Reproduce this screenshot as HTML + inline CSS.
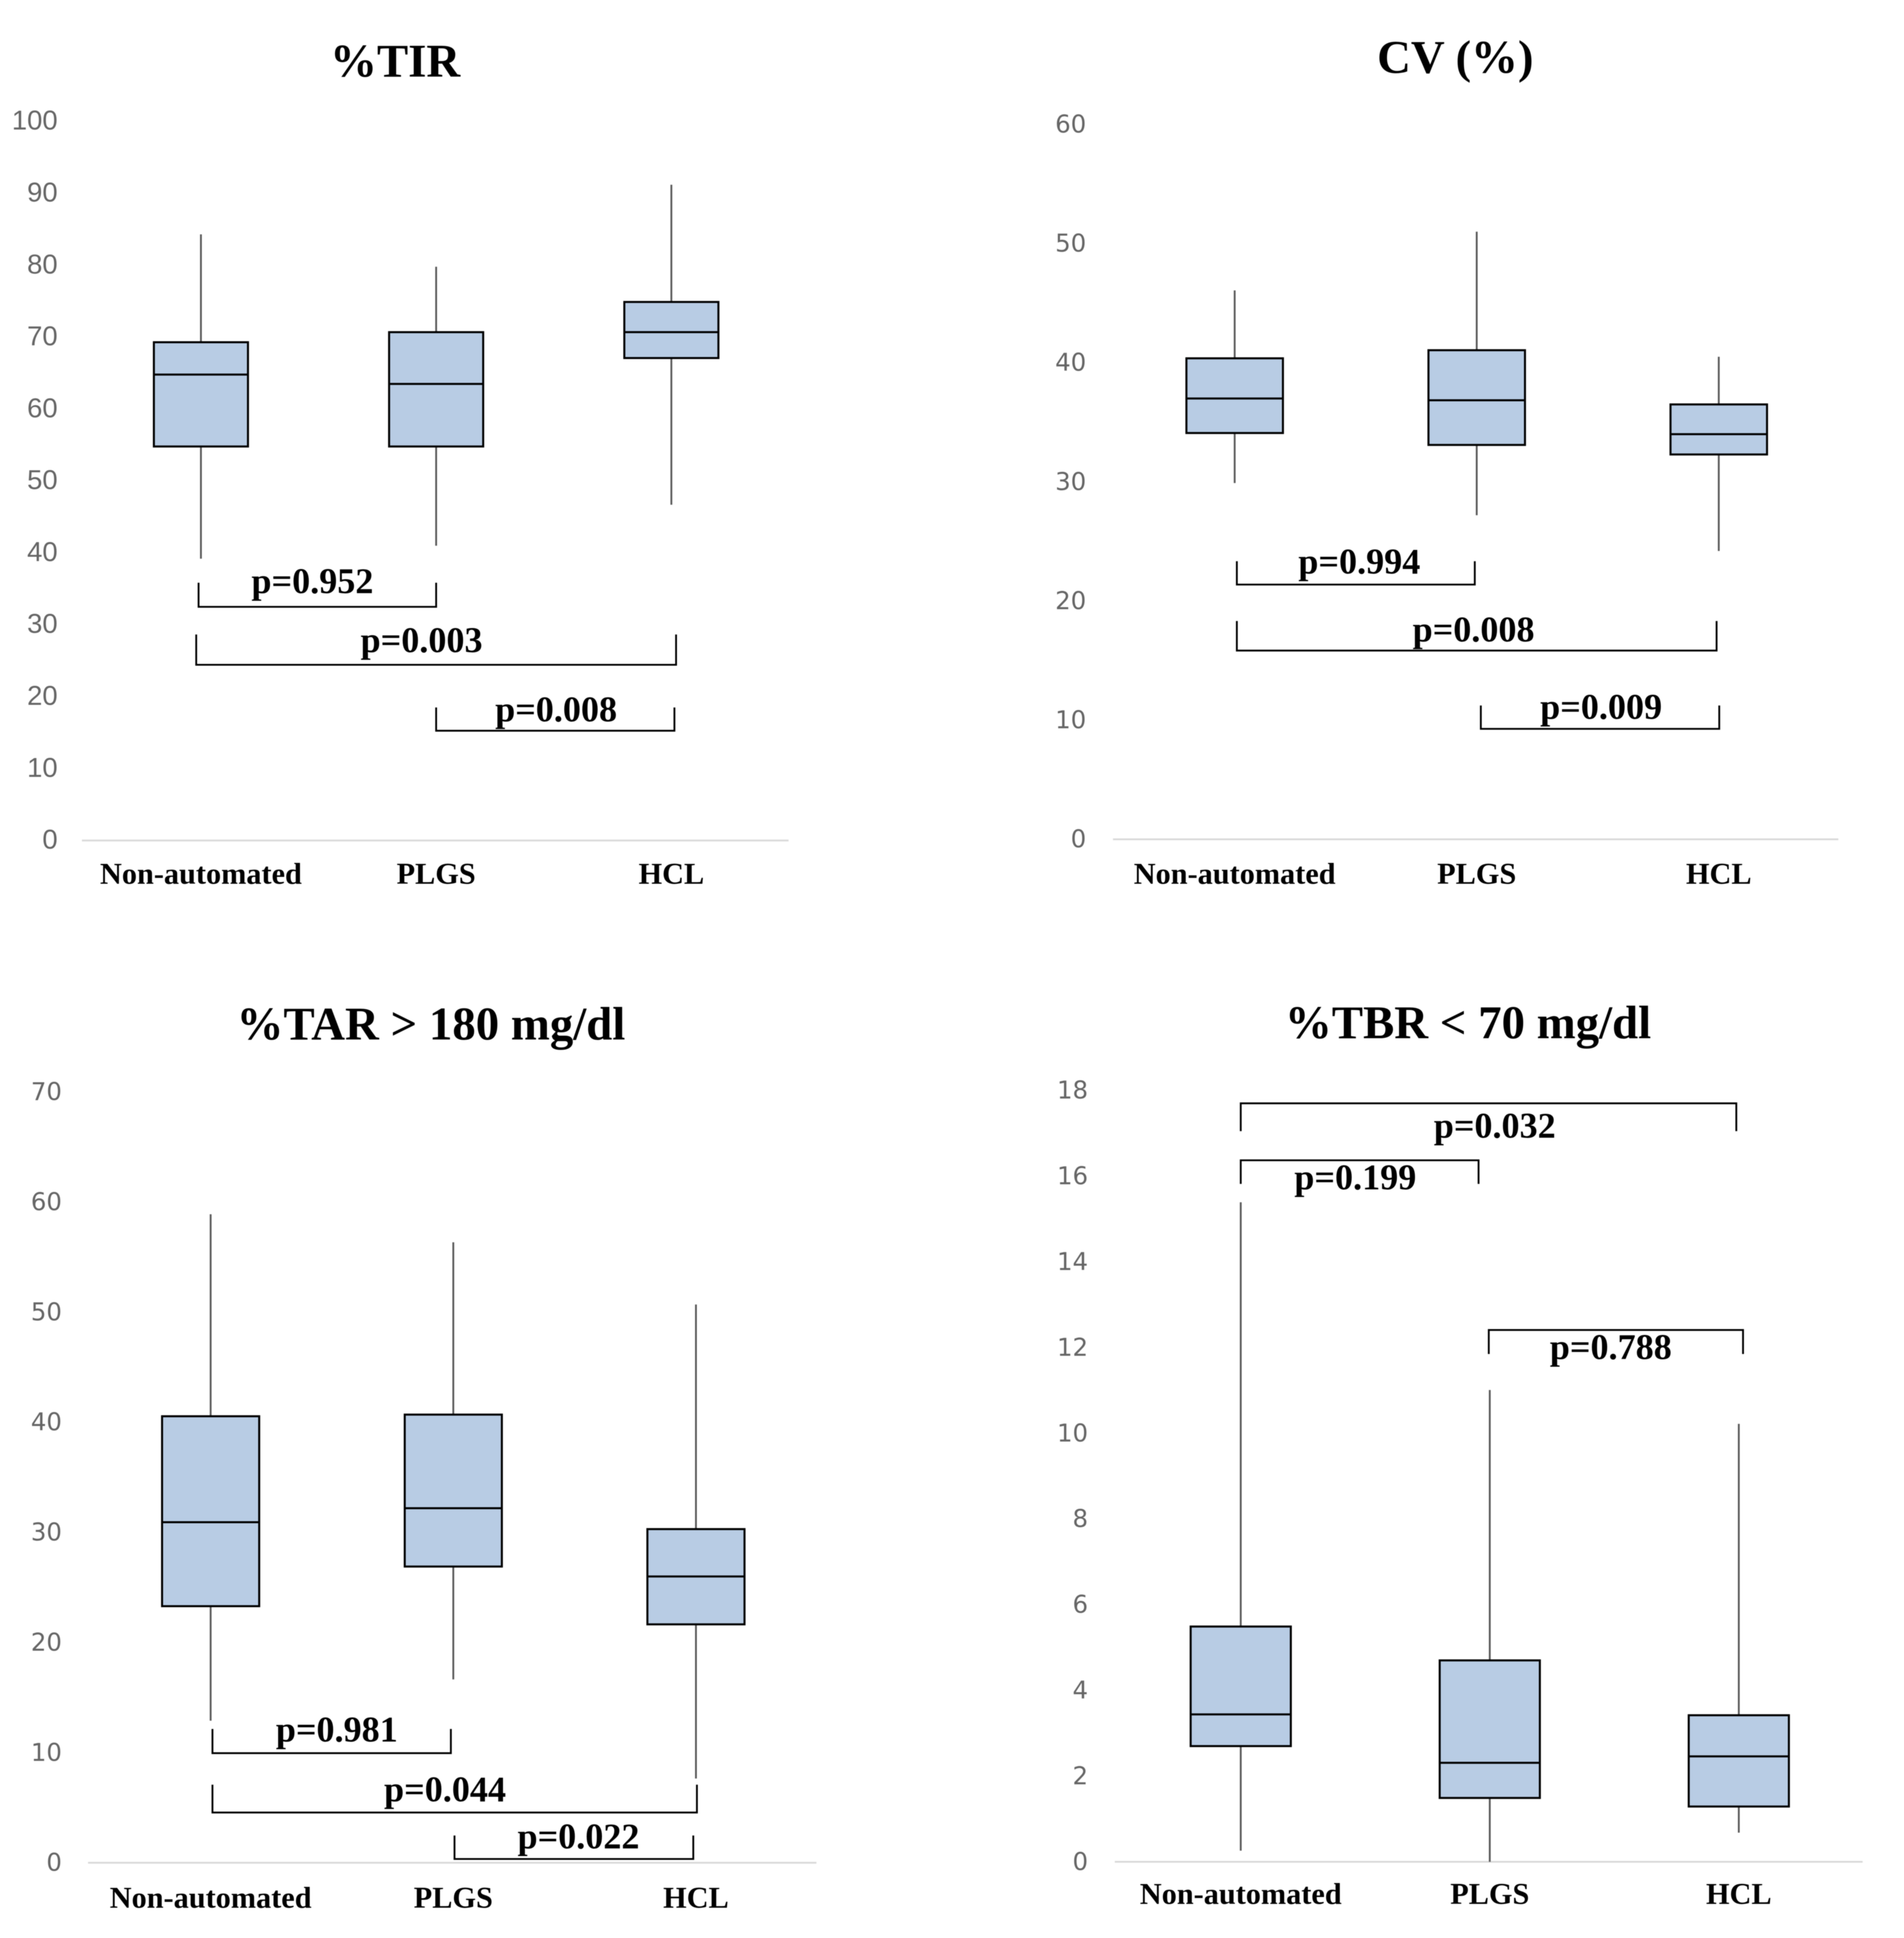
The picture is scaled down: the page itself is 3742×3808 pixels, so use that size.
<!DOCTYPE html>
<html lang="en">
<head>
<meta charset="utf-8">
<title>Glucose metrics box plots</title>
<style>
html,body{margin:0;padding:0;background:#fff;width:3742px;height:3808px;overflow:hidden}
svg{display:block;filter:blur(0.8px)}
.title{font:bold 92px "Liberation Serif",serif;fill:#000;text-anchor:middle}
.cat{font:bold 59.5px "Liberation Serif",serif;fill:#000;text-anchor:middle}
.pval{font:bold 71px "Liberation Serif",serif;fill:#000;text-anchor:middle}
.tick{fill:#666;text-anchor:end}
.tick-a{font:54px "Liberation Sans",sans-serif}
.tick-b{font:48px "DejaVu Sans",sans-serif}
</style>
</head>
<body>
<svg id="figure" xmlns="http://www.w3.org/2000/svg" width="3742" height="3808" viewBox="0 0 3742 3808"></svg>
<script>
const categories = ["Non-automated", "PLGS", "HCL"];

const tirTicks = [0, 10, 20, 30, 40, 50, 60, 70, 80, 90, 100];
const tirHigh = [84.3, 79.8, 91.2];
const tirQ3 = [69.3, 70.7, 74.9];
const tirMedian = [64.8, 63.5, 70.7];
const tirQ1 = [54.8, 54.8, 67.1];
const tirLow = [39.2, 41.0, 46.7];
const tirPValues = ["p=0.952", "p=0.003", "p=0.008"];

const cvTicks = [0, 10, 20, 30, 40, 50, 60];
const cvHigh = [46.07, 51.0, 40.5];
const cvQ3 = [40.37, 41.05, 36.5];
const cvMedian = [37.0, 36.85, 34.0];
const cvQ1 = [34.1, 33.1, 32.3];
const cvLow = [29.9, 27.2, 24.2];
const cvPValues = ["p=0.994", "p=0.008", "p=0.009"];

const tarTicks = [0, 10, 20, 30, 40, 50, 60, 70];
const tarHigh = [58.9, 56.35, 50.7];
const tarQ3 = [40.55, 40.7, 30.3];
const tarMedian = [30.93, 32.2, 26.0];
const tarQ1 = [23.3, 26.9, 21.65];
const tarLow = [12.9, 16.65, 7.65];
const tarPValues = ["p=0.981", "p=0.044", "p=0.022"];

const tbrTicks = [0, 2, 4, 6, 8, 10, 12, 14, 16, 18];
const tbrHigh = [15.39, 11.01, 10.22];
const tbrQ3 = [5.49, 4.7, 3.42];
const tbrMedian = [3.44, 2.31, 2.46];
const tbrQ1 = [2.7, 1.49, 1.29];
const tbrLow = [0.26, 0, 0.68];
const tbrPValues = ["p=0.032", "p=0.199", "p=0.788"];

/* Measured-coordinate scales of the reference */
const SX = 1.193;
const panels = [
  { key:"tir", title:"%TIR", ox:0, oy:0, sy:1.2117, tickClass:"tick tick-a", tickDy:16, y0:1363, unit:11.66, c0:331, band:387.5, axisL:135, axisR:1299, tickR:95,
    titleX:651, titleY:124, catY:1433, boxW:155,
    ticks:tirTicks, high:tirHigh, q3:tirQ3, med:tirMedian, q1:tirQ1, low:tirLow, pv:tirPValues,
    brackets:[
      {from:-0.01, to:1.0, level:32.5, end:35.85, textCat:0.474, textVal:34.4},
      {from:-0.02, to:2.02, level:24.44, end:28.65, textCat:0.938, textVal:26.2},
      {from:1.0, to:2.013, level:15.27, end:18.5, textCat:1.51, textVal:16.55}
    ]},
  { key:"cv", title:"CV (%)", ox:1870, oy:0, sy:1.2117, tickClass:"tick tick-b", tickDy:16, y0:1361, unit:19.32, c0:466.5, band:398.75, axisL:266, axisR:1461, tickR:222,
    titleX:830, titleY:118, catY:1433, boxW:159,
    ticks:cvTicks, high:cvHigh, q3:cvQ3, med:cvMedian, q1:cvQ1, low:cvLow, pv:cvPValues,
    brackets:[
      {from:0.009, to:0.992, level:21.38, end:23.34, textCat:0.515, textVal:22.3},
      {from:0.009, to:1.991, level:15.84, end:18.32, textCat:0.987, textVal:16.6},
      {from:1.017, to:2.002, level:9.27, end:11.23, textCat:1.514, textVal:10.1}
    ]},
  { key:"tar", title:"%TAR > 180 mg/dl", ox:0, oy:1900, sy:1.2168, tickClass:"tick tick-b", tickDy:16, y0:1446.5, unit:17.78, c0:347, band:399.75, axisL:145, axisR:1345, tickR:102,
    titleX:710, titleY:117, catY:1519, boxW:160,
    ticks:tarTicks, high:tarHigh, q3:tarQ3, med:tarMedian, q1:tarQ1, low:tarLow, pv:tarPValues,
    brackets:[
      {from:0.0075, to:0.99, level:9.95, end:12.15, textCat:0.52, textVal:11.0},
      {from:0.0075, to:2.004, level:4.56, end:7.09, textCat:0.966, textVal:5.57},
      {from:1.005, to:1.989, level:0.34, end:2.47, textCat:1.516, textVal:1.29}
    ]},
  { key:"tbr", title:"%TBR < 70 mg/dl", ox:1870, oy:1900, sy:1.2168, tickClass:"tick tick-b", tickDy:16, y0:1445, unit:69.2, c0:476.5, band:410.25, axisL:269, axisR:1501, tickR:225,
    titleX:851, titleY:115, catY:1513, boxW:165,
    ticks:tbrTicks, high:tbrHigh, q3:tbrQ3, med:tbrMedian, q1:tbrQ1, low:tbrLow, pv:tbrPValues,
    brackets:[
      {from:0, to:1.99, level:17.7, end:17.05, textCat:1.02, textVal:16.9},
      {from:0, to:0.955, level:16.37, end:15.82, textCat:0.46, textVal:15.69},
      {from:0.996, to:2.017, level:12.41, end:11.85, textCat:1.486, textVal:11.73}
    ]}
];

const NS = "http://www.w3.org/2000/svg";
const root = document.getElementById("figure");

function make(tag, parent, attrs, text) {
  const n = document.createElementNS(NS, tag);
  for (const k in attrs) n.setAttribute(k, attrs[k]);
  if (text !== undefined) n.textContent = text;
  parent.appendChild(n);
  return n;
}

panels.forEach(function (p) {
  const xPx = function (z) { return z * SX + p.ox; };
  const yPx = function (z) { return z * p.sy + p.oy; };
  const yScale = function (v) { return yPx(p.y0 - v * p.unit); };
  const xScale = function (c) { return xPx(p.c0 + c * p.band); };

  const g = make("g", root, {});
  
  

  const title = make("text", g, { class:"title", x:xPx(p.titleX), y:yPx(p.titleY) }, p.title);
  
  

  p.ticks.forEach(function (t) {
    const label = make("text", g, { class:p.tickClass, x:xPx(p.tickR), y:yScale(t) + p.tickDy }, String(t));
    
    
  });

  const axis = make("line", g, { x1:xPx(p.axisL), x2:xPx(p.axisR), y1:yScale(0), y2:yScale(0), stroke:"#d9d9d9", "stroke-width":3.5 });
  
  

  categories.forEach(function (cat, i) {
    const cx = xScale(i);
    const w = p.boxW * SX;

    const whisker = make("line", g, { x1:cx, x2:cx, y1:yScale(p.high[i]), y2:yScale(p.low[i]), stroke:"#595959", "stroke-width":3.6 });
    
    

    const box = make("rect", g, { x:cx - w / 2, y:yScale(p.q3[i]), width:w, height:yScale(p.q1[i]) - yScale(p.q3[i]), fill:"#b8cce4", stroke:"#000", "stroke-width":4 });
    
    

    const median = make("line", g, { x1:cx - w / 2, x2:cx + w / 2, y1:yScale(p.med[i]), y2:yScale(p.med[i]), stroke:"#000", "stroke-width":4 });
    
    

    const label = make("text", g, { class:"cat", x:cx, y:yPx(p.catY) }, cat);
    
    
  });

  p.brackets.forEach(function (b, i) {
    const x1 = xScale(b.from), x2 = xScale(b.to), yl = yScale(b.level), ye = yScale(b.end);
    const path = make("path", g, { d:"M" + x1 + " " + ye + "V" + yl + "H" + x2 + "V" + ye, fill:"none", stroke:"#000", "stroke-width":3.6 });
    
    

    const txt = make("text", g, { class:"pval", x:xScale(b.textCat), y:yScale(b.textVal) }, p.pv[i]);
    
    
  });
});
</script>
</body>
</html>
